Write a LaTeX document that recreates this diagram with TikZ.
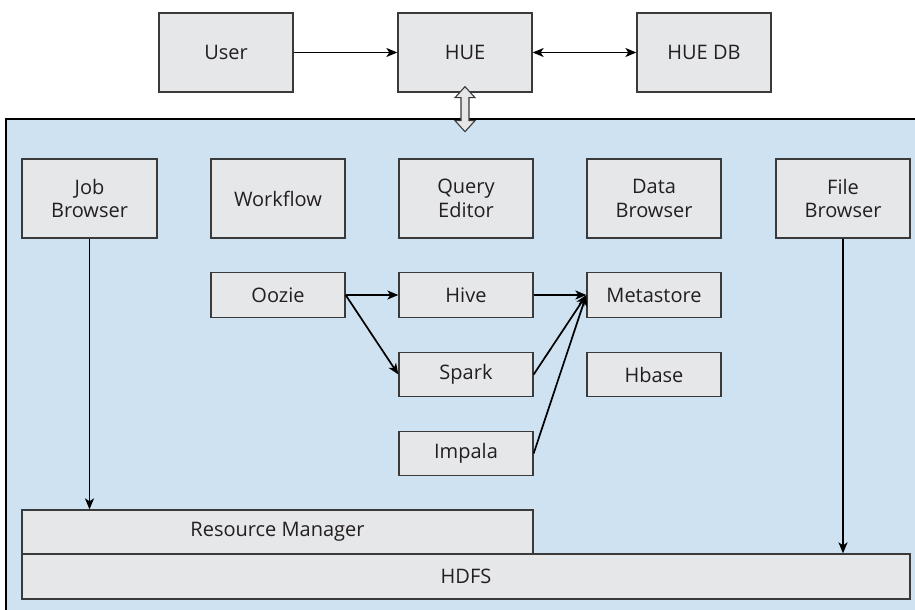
\documentclass[tikz,border=0pt]{standalone}
\usepackage{fontspec}
\setmainfont{Open Sans}
\usetikzlibrary{arrows.meta}
\definecolor{boxfill}{HTML}{E6E7E9}
\definecolor{boxline}{HTML}{3A3A3A}
\definecolor{bgfill}{HTML}{CFE2F1}
\definecolor{txt}{HTML}{231F20}
\tikzset{
  box/.style={draw=boxline, fill=boxfill, line width=1.3pt, inner sep=0pt,
    text=txt, align=center, font=\fontsize{20}{23.5}\selectfont},
  bigbox/.style={box, minimum width=134pt, minimum height=79pt},
  smallbox/.style={box, minimum width=134pt, minimum height=44.5pt},
  conn/.style={line width=1.7pt, -{Stealth[length=11pt,width=9pt,inset=3pt]}},
  biconn/.style={line width=1.7pt, {Stealth[length=11pt,width=9pt,inset=3pt]}-{Stealth[length=11pt,width=9pt,inset=3pt]}}
}
\begin{document}
\begin{tikzpicture}[x=1pt,y=-1pt]
\useasboundingbox (0,0) rectangle (915,610);
\begin{scope}
\clip (0,0) rectangle (915,610);
\draw[fill=bgfill, line width=1.3pt] (6,119) rectangle (930,625);
\end{scope}
% top row
\node[bigbox] (user) at (226,52.5) {User};
\node[bigbox] (hue) at (465,52.5) {HUE};
\node[bigbox] (huedb) at (704,52.5) {HUE DB};
% row A
\node[bigbox, minimum width=135pt] (jobb) at (89.5,198.5) {Job\\Browser};
\node[bigbox] (workflow) at (278,198.5) {Workflow};
\node[bigbox] (query) at (466,198.5) {Query\\Editor};
\node[bigbox] (datab) at (654,198.5) {Data\\Browser};
\node[bigbox] (fileb) at (843,198.5) {File\\Browser};
% row B
\node[smallbox] (oozie) at (278,295) {Oozie};
\node[smallbox] (hive) at (466,295) {Hive};
\node[smallbox] (meta) at (654,295) {Metastore};
% row C
\node[smallbox] (spark) at (466,374.5) {Spark};
\node[smallbox] (hbase) at (654,374.5) {Hbase};
% row D
\node[smallbox] (impala) at (466,453.5) {Impala};
% bottom
\node[box, minimum width=511pt, minimum height=44pt] (rm) at (277.5,532) {Resource Manager};
\node[box, minimum width=888pt, minimum height=45pt] (hdfs) at (466,576.5) {HDFS};
% connectors
\draw[conn] (user) -- (hue);
\draw[biconn] (hue) -- (huedb);
\draw[conn] (jobb.south) -- (jobb.south |- rm.north);
\draw[conn] (fileb.south) -- (fileb.south |- hdfs.north);
\draw[conn] (oozie.east) -- (hive.west);
\draw[conn] (oozie.east) -- (spark.west);
\draw[conn] (hive.east) -- (meta.west);
\draw[conn] (spark.east) -- (meta.west);
\draw[conn] (impala.east) -- (meta.west);
% hollow double arrow between HUE and the platform
\coordinate (da) at ([yshift=6pt]hue.south);
\draw[draw=boxline, fill=boxfill, line width=1.1pt, line join=miter]
  (da) -- ++(10,11) -- ++(-6,0) -- ++(0,23) -- ++(6,0) -- ++(-10,11)
  -- ++(-10,-11) -- ++(6,0) -- ++(0,-23) -- ++(-6,0) -- cycle;
\end{tikzpicture}
\end{document}
